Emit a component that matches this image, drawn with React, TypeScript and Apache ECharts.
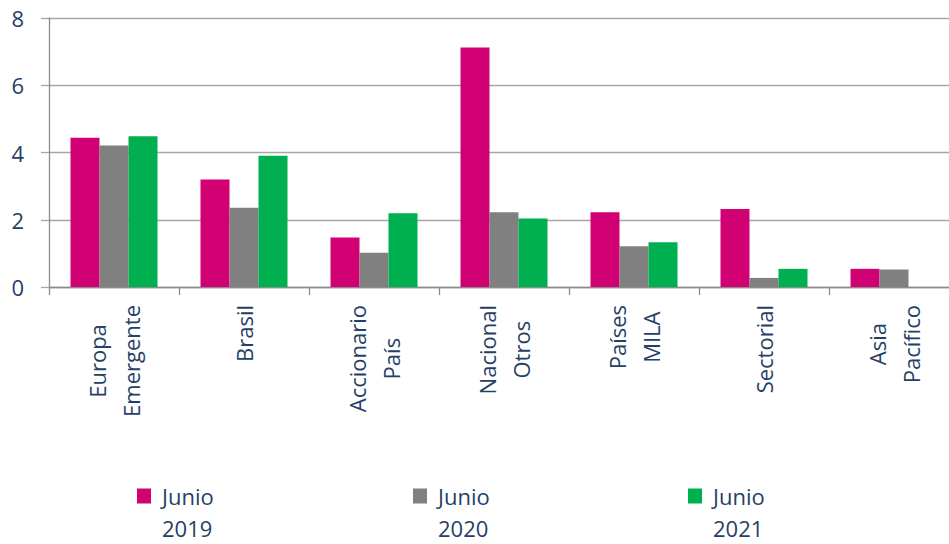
import React, { useEffect, useRef } from "react";
import * as echarts from "echarts";

const categories = [
  "Europa\nEmergente",
  "Brasil",
  "Accionario\nPaís",
  "Nacional\nOtros",
  "Países\nMILA",
  "Sectorial",
  "Asia\nPacífico",
];
const seriesNames = ["Junio 2019", "Junio 2020", "Junio 2021"];
const junio2019 = [4.44, 3.2, 1.47, 7.12, 2.22, 2.32, 0.54];
const junio2020 = [4.21, 2.36, 1.02, 2.22, 1.21, 0.27, 0.52];
const junio2021 = [4.48, 3.9, 2.19, 2.04, 1.33, 0.54, 0];
const yTicks = [0, 2, 4, 6, 8];

const colors = ["#D10073", "#808080", "#00B050"];
const textColor = "#263F66";
const font = "'Open Sans', 'DejaVu Sans', sans-serif";

export default function App() {
  const ref = useRef<HTMLDivElement>(null);
  useEffect(() => {
    if (!ref.current) return;
    const chart = echarts.init(ref.current, undefined, { renderer: "svg" });
    const legendCommon = {
      icon: "path://M0,0H14V15H0Z M0,47H0.01V47.01H0Z",
      itemWidth: 14,
      itemHeight: 47,
      padding: 0,
      formatter: (n: string) => n.replace(" ", "\n"),
      textStyle: {
        fontFamily: font,
        fontSize: 22,
        color: textColor,
        lineHeight: 32,
        padding: [0, 0, 0, 6],
      },
    };
    const values = [junio2019, junio2020, junio2021];
    chart.setOption({
      animation: false,
      grid: { left: 49, top: 18, width: 910, height: 269, containLabel: false },
      legend: [
        { ...legendCommon, data: [seriesNames[0]], left: 137, top: 480 },
        { ...legendCommon, data: [seriesNames[1]], left: 413, top: 480 },
        { ...legendCommon, data: [seriesNames[2]], left: 688, top: 480 },
      ],
      xAxis: {
        type: "category",
        data: categories,
        axisLine: { lineStyle: { color: "#8C8C8C", width: 1.3 } },
        axisTick: { show: true, length: 8, lineStyle: { color: "#8C8C8C", width: 1.3 } },
        axisLabel: {
          rotate: 90,
          margin: 18,
          interval: 0,
          formatter: (v: string) => v.split("\n").map((s) => `{c|${s}}`).join("\n"),
          rich: {
            c: {
              align: "center",
              fontFamily: font,
              fontSize: 22,
              color: textColor,
              lineHeight: 34,
            },
          },
        },
      },
      yAxis: {
        type: "value",
        min: yTicks[0],
        max: yTicks[yTicks.length - 1],
        interval: 2,
        axisLine: { show: true, lineStyle: { color: "#8C8C8C", width: 1.3 } },
        axisTick: { show: true, length: 8, lineStyle: { color: "#A6A6A6", width: 1.3 } },
        axisLabel: { margin: 25, fontFamily: font, fontSize: 22, color: textColor },
        splitLine: { lineStyle: { color: "#A6A6A6", width: 1.3 } },
      },
      series: seriesNames.map((name, i) => ({
        name,
        type: "bar",
        data: values[i],
        barWidth: 29,
        barGap: "0%",
        itemStyle: { color: colors[i] },
      })),
    });
    return () => chart.dispose();
  }, []);
  return (
    <div
      style={{
        position: "absolute",
        left: 0,
        top: 0,
        width: 949,
        height: 544,
        overflow: "hidden",
      }}
    >
      <div ref={ref} style={{ width: 980, height: 544 }} />
    </div>
  );
}
